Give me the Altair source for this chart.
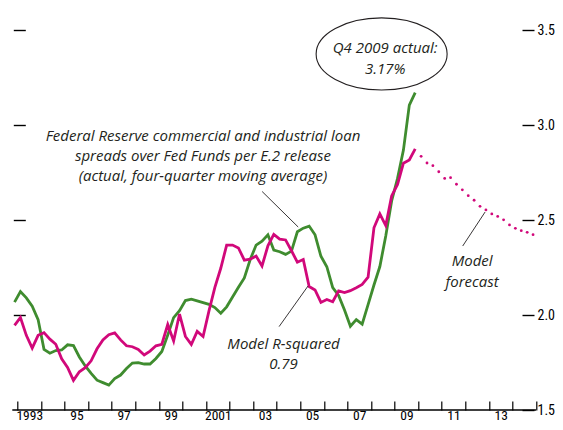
import altair as alt
import pandas as pd

# ---------------- data ----------------
start_quarter = 1992.875          # Q4 1992 (mid-quarter position)
forecast_start = 2010.125         # Q1 2010

actual = [2.068, 2.123, 2.090, 2.046, 1.976, 1.819, 1.799, 1.813, 1.816, 1.843,
          1.839, 1.779, 1.732, 1.693, 1.657, 1.644, 1.631, 1.665, 1.684, 1.718,
          1.747, 1.749, 1.742, 1.742, 1.771, 1.808, 1.894, 1.986, 2.023, 2.076,
          2.083, 2.074, 2.065, 2.056, 2.039, 2.009, 2.043, 2.095, 2.146, 2.195,
          2.292, 2.368, 2.388, 2.422, 2.342, 2.333, 2.319, 2.336, 2.438, 2.457,
          2.468, 2.422, 2.309, 2.254, 2.144, 2.103, 2.026, 1.941, 1.976, 1.952,
          2.055, 2.158, 2.255, 2.416, 2.600, 2.719, 2.868, 3.105, 3.170]

model = [1.945, 1.987, 1.893, 1.826, 1.893, 1.907, 1.873, 1.846, 1.769, 1.724,
         1.656, 1.701, 1.723, 1.759, 1.822, 1.869, 1.896, 1.906, 1.869, 1.838,
         1.833, 1.819, 1.790, 1.810, 1.838, 1.846, 1.950, 1.863, 2.005, 1.887,
         1.845, 1.914, 1.887, 2.022, 2.145, 2.246, 2.368, 2.368, 2.353, 2.289,
         2.294, 2.310, 2.258, 2.364, 2.424, 2.399, 2.395, 2.338, 2.278, 2.292,
         2.150, 2.132, 2.066, 2.082, 2.070, 2.127, 2.118, 2.128, 2.144, 2.161,
         2.199, 2.459, 2.532, 2.471, 2.627, 2.687, 2.799, 2.816, 2.874]

forecast = [2.835, 2.800, 2.786, 2.754, 2.719, 2.723, 2.688, 2.659, 2.628, 2.604,
            2.572, 2.553, 2.532, 2.519, 2.501, 2.474, 2.456, 2.444, 2.435, 2.423]

tick_years = list(range(1993, 2016))
label_years = [1993, 1995, 1997, 1999, 2001, 2003, 2005, 2007, 2009, 2011, 2013]
label_texts = ["1993", "95", "97", "99", "2001", "03", "05", "07", "09", "11", "13"]
y_ticks = [1.5, 2.0, 2.5, 3.0, 3.5]
left_marks = [2.0, 2.5, 3.0, 3.5]

# annotations (text, year, value)
notes_text = ["Federal Reserve commercial and industrial loan",
              "spreads over Fed Funds per E.2 release",
              "(actual, four-quarter moving average)",
              "Q4 2009 actual:", "3.17%",
              "Model R-squared", "0.79",
              "Model", "forecast"]
notes_x = [2000.87, 2000.87, 2000.87, 2008.60, 2008.60, 2004.29, 2004.29, 2012.29, 2012.29]
notes_y = [2.942, 2.837, 2.732, 3.406, 3.296, 1.845, 1.743, 2.284, 2.172]

# leader lines
lead_x1 = [2003.38, 2004.10, 2011.89]
lead_y1 = [2.650, 1.939, 2.363]
lead_x2 = [2004.91, 2005.33, 2012.84]
lead_y2 = [2.463, 2.153, 2.542]

# callout ellipse centre
ell_x, ell_y = [2008.45], [3.374]

# ---------------- frames ----------------
df_act = pd.DataFrame({"t": [start_quarter + 0.25 * i for i in range(len(actual))], "v": actual})
df_mod = pd.DataFrame({"t": [start_quarter + 0.25 * i for i in range(len(model))], "v": model})
df_fc = pd.DataFrame({"t": [forecast_start + 0.25 * i for i in range(len(forecast))], "v": forecast})
df_notes = pd.DataFrame({"text": notes_text, "t": notes_x, "v": notes_y})
df_lead = pd.DataFrame({"t": lead_x1, "v": lead_y1, "t2": lead_x2, "v2": lead_y2})
df_ell = pd.DataFrame({"t": ell_x, "v": ell_y})
df_base = pd.DataFrame({"v": [1.5]})

GREEN = "#3f8c2f"
MAGENTA = "#d1087a"
INK = "#231f20"
AXFONT = "Liberation Sans Narrow, Roboto Condensed, Roboto, sans-serif"
NOTEFONT = "Open Sans"

label_expr = " : ".join(
    f"datum.value == {y} ? '{t}'" for y, t in zip(label_years, label_texts)
) + " : ''"

xscale = alt.Scale(domain=[1992.78, 2015.0], nice=False, zero=False)
yscale = alt.Scale(domain=[1.5, 3.6158], nice=False, zero=False)

x_axis = alt.Axis(values=tick_years, title=None, grid=False, domain=False,
                  orient="bottom", offset=-9, tickSize=9, tickColor="black",
                  tickWidth=1.2, labelExpr=label_expr, labelOffset=11.8,
                  labelPadding=9, labelBaseline="alphabetic", labelFont=AXFONT,
                  labelFontSize=13.5, labelColor="black", labelOverlap=False,
                  labelBound=False, labelFlush=False)
y_left = alt.Axis(values=left_marks, orient="left", offset=-13, tickSize=12,
                  tickWidth=1.4, tickColor="black", labels=False, domain=False,
                  grid=False, title=None)
y_right = alt.Axis(values=y_ticks, orient="right", offset=-14, tickSize=12,
                   tickWidth=1.4, tickColor="black", domain=False, grid=False,
                   title=None, format=".1f", labelFont=AXFONT, labelFontSize=14,
                   labelColor="black", labelPadding=3, labelOverlap=False,
                   labelBound=False, labelFlush=False)

X = alt.X("t:Q", scale=xscale, axis=x_axis)

green = alt.Chart(df_act).mark_line(color=GREEN, strokeWidth=2.8).encode(
    x=X, y=alt.Y("v:Q", scale=yscale, axis=y_left),
)
magenta = alt.Chart(df_mod).mark_line(color=MAGENTA, strokeWidth=2.8).encode(
    x=X, y=alt.Y("v:Q", axis=y_right),
)
fc = alt.Chart(df_fc).mark_circle(color=MAGENTA, size=8, opacity=1).encode(
    x=X, y=alt.Y("v:Q", axis=None),
)
base = alt.Chart(df_base).mark_rule(color="black", strokeWidth=1.3).encode(
    y=alt.Y("v:Q", axis=None),
)
leads = alt.Chart(df_lead).mark_rule(color=INK, strokeWidth=0.9).encode(
    x=X, y=alt.Y("v:Q", axis=None), x2="t2:Q", y2="v2:Q",
)
ellipse = alt.Chart(df_ell).mark_point(
    shape="M -1 0 A 1 0.55 0 1 1 1 0 A 1 0.55 0 1 1 -1 0 Z",
    filled=False, stroke=INK, strokeWidth=1.1, size=17161, opacity=1,
).encode(x=X, y=alt.Y("v:Q", axis=None))
notes = alt.Chart(df_notes).mark_text(
    font=NOTEFONT, fontStyle="italic", fontSize=15, color=INK,
    align="center", baseline="middle",
).encode(x=X, y=alt.Y("v:Q", axis=None), text="text:N")

chart = alt.layer(green, magenta, fc, base, leads, ellipse, notes).resolve_axis(
    y="independent"
).resolve_scale(y="shared").properties(
    width=523.7, height=402,
    autosize=alt.AutoSizeParams(type="none"),
    padding={"left": 4.3, "top": 0, "right": 19, "bottom": 12},
).configure_view(stroke=None)

chart.save("out.html", embed_options={"renderer": "svg", "actions": False})
